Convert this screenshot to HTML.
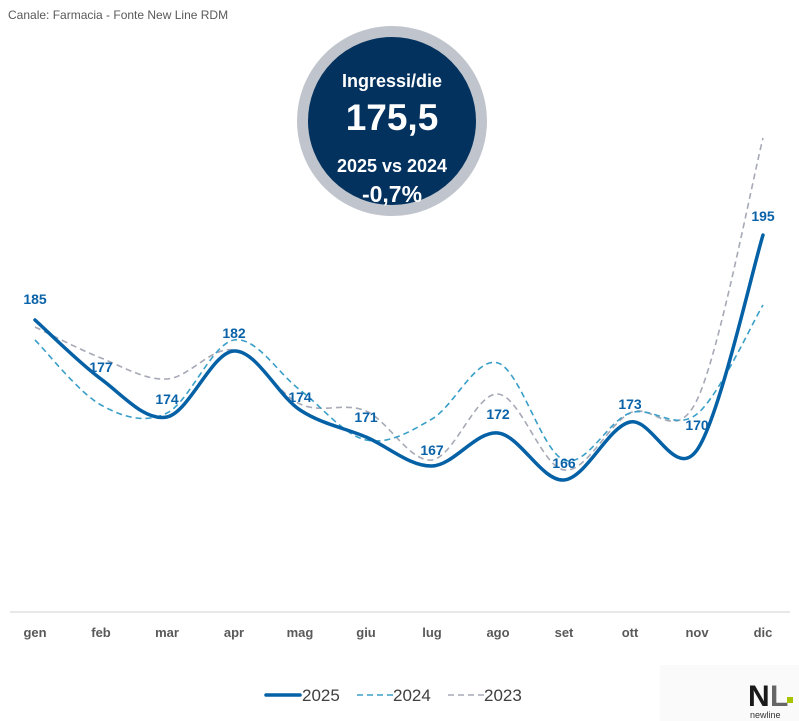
<!DOCTYPE html>
<html><head><meta charset="utf-8"><style>
html,body{margin:0;padding:0;background:#fff;width:799px;height:721px;overflow:hidden}
</style></head><body>
<svg id="s" width="799" height="721" xmlns="http://www.w3.org/2000/svg" font-family="Liberation Sans, Arial, sans-serif">
<text x="8" y="19" font-size="12" fill="#595959">Canale: Farmacia - Fonte New Line RDM</text>
<line x1="10" y1="612" x2="790" y2="612" stroke="#d0d0d0" stroke-width="1"/>
<g font-size="13" font-weight="bold" fill="#595959" text-anchor="middle">
<text x="35" y="637">gen</text><text x="101" y="637">feb</text><text x="167" y="637">mar</text><text x="234" y="637">apr</text><text x="300" y="637">mag</text><text x="366" y="637">giu</text><text x="432" y="637">lug</text><text x="498" y="637">ago</text><text x="564" y="637">set</text><text x="630" y="637">ott</text><text x="697" y="637">nov</text><text x="763" y="637">dic</text>
</g>
<path id="p23" fill="none" stroke="#a6a9b6" stroke-width="1.6" stroke-dasharray="6,4"/>
<path id="p24" fill="none" stroke="#3a9fc8" stroke-width="1.6" stroke-dasharray="6,4"/>
<path id="p25" fill="none" stroke="#0461a6" stroke-width="3.5" stroke-linecap="round"/>
<g font-size="14" font-weight="bold" fill="#0a62a8" text-anchor="middle">
<text x="35" y="304">185</text><text x="101" y="372">177</text><text x="167" y="404">174</text><text x="234" y="338">182</text><text x="300" y="402">174</text><text x="366" y="422">171</text><text x="432" y="455">167</text><text x="498" y="419">172</text><text x="564" y="468">166</text><text x="630" y="409">173</text><text x="697" y="430">170</text><text x="763" y="221">195</text>
</g>
<circle cx="392" cy="121" r="89.5" fill="#03325e" stroke="#c0c4cc" stroke-width="11"/>
<g fill="#fff" font-weight="bold" text-anchor="middle">
<text x="392" y="87" font-size="18">Ingressi/die</text>
<text x="392" y="130" font-size="37">175,5</text>
<text x="392" y="172" font-size="18">2025 vs 2024</text>
<text x="392" y="202" font-size="23">-0,7%</text>
</g>
<g font-size="17" fill="#404040">
<line x1="266" y1="695" x2="300" y2="695" stroke="#0461a6" stroke-width="3.5" stroke-linecap="round"/>
<text x="302" y="701">2025</text>
<line x1="357" y1="695" x2="393" y2="695" stroke="#3a9fc8" stroke-width="1.6" stroke-dasharray="6,4"/>
<text x="393" y="701">2024</text>
<line x1="448" y1="695" x2="484" y2="695" stroke="#a6a9b6" stroke-width="1.6" stroke-dasharray="6,4"/>
<text x="484" y="701">2023</text>
</g>
<rect x="660" y="665" width="139" height="56" fill="#fafafa"/>
<text x="748" y="706" font-size="30" font-weight="bold" fill="#1a1a1a" letter-spacing="-2">N</text>
<text x="770" y="706" font-size="30" font-weight="bold" fill="#666">L</text>
<rect x="787" y="697" width="6" height="6" fill="#a8c400"/>
<text x="750" y="718" font-size="9" fill="#333">newline</text>
</svg>
<script>
var xs=[35,101,167,234,300,366,432,498,564,630,697,763];
function path(ys){var p=xs.map((x,i)=>[x,ys[i]]);var d="M"+p[0][0]+","+p[0][1];
for(var i=0;i<p.length-1;i++){var p0=p[i-1]||p[i],p1=p[i],p2=p[i+1],p3=p[i+2]||p2;
d+=" C"+(p1[0]+(p2[0]-p0[0])/6)+","+(p1[1]+(p2[1]-p0[1])/6)+" "+(p2[0]-(p3[0]-p1[0])/6)+","+(p2[1]-(p3[1]-p1[1])/6)+" "+p2[0]+","+p2[1];}return d;}
document.getElementById("p25").setAttribute("d",path([320,379,417,351,410,437,466,433,480,422,450,235]));
document.getElementById("p24").setAttribute("d",path([340,405,413,340,390,440,419,363,460,413,414,305]));
document.getElementById("p23").setAttribute("d",path([327,358,379,350,404,411,460,394,470,413,400,138]));
</script>
</body></html>
